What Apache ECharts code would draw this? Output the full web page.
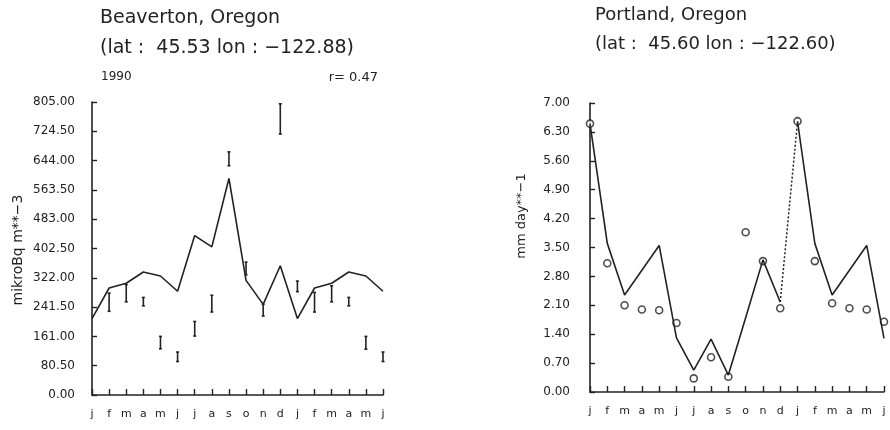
<!DOCTYPE html>
<html>
<head>
  <meta charset="utf-8">
  <title>Beaverton / Portland</title>
  <script src="https://cdn.jsdelivr.net/npm/echarts@6/dist/echarts.min.js"></script>
</head>
<body style="margin:0;background:#fff">
  <div id="chart" style="width: 890px; height: 430px;"></div>

  <script>
    // month letters, two seasonal cycles (j .. d, j .. j)
    const months = ['j','f','m','a','m','j','j','a','s','o','n','d','j','f','m','a','m','j'];

    // Beaverton: model curve and measured ranges (low, high); null = no measurement
    const beavertonModel = [210, 294, 307, 338, 327, 285, 438, 407, 595, 315, 249, 355, 210, 294, 307, 338, 327, 285];
    const beavertonLow  = [null, 230, 256, 245, 127, 92, 162, 228, 630, 330, 217, 717, 284, 228, 256, 245, 126, 92];
    const beavertonHigh = [null, 280, 303, 268, 161, 118, 202, 274, 668, 365, 249, 800, 313, 282, 300, 268, 161, 118];

    // Portland: model curve and observed values (mm/day)
    const portlandModel = [6.5, 3.6, 2.35, 2.95, 3.55, 1.31, 0.53, 1.28, 0.41, 1.8, 3.2, 2.18, 6.55, 3.6, 2.35, 2.95, 3.55, 1.3];
    const portlandObs   = [6.5, 3.12, 2.1, 2.0, 1.98, 1.67, 0.33, 0.84, 0.37, 3.87, 3.17, 2.03, 6.56, 3.17, 2.15, 2.03, 2.0, 1.7];

    // y-axis ticks
    const beavertonTicks = [0, 80.5, 161, 241.5, 322, 402.5, 483, 563.5, 644, 724.5, 805];
    const portlandTicks = [0, 0.7, 1.4, 2.1, 2.8, 3.5, 4.2, 4.9, 5.6, 6.3, 7.0];

    const ink = '#222';
    const font = 'DejaVu Sans';

    const chart = echarts.init(document.getElementById('chart'));

    function renderBar(params, api) {
      const lo = api.coord([api.value(0), api.value(1)]);
      const hi = api.coord([api.value(0), api.value(2)]);
      const st = { stroke: ink, lineWidth: 1.6 };
      return {
        type: 'group',
        children: [
          { type: 'line', shape: { x1: lo[0], y1: lo[1], x2: hi[0], y2: hi[1] }, style: st },
          { type: 'line', shape: { x1: lo[0] - 1.5, y1: lo[1], x2: lo[0] + 1.5, y2: lo[1] }, style: st },
          { type: 'line', shape: { x1: hi[0] - 1.5, y1: hi[1], x2: hi[0] + 1.5, y2: hi[1] }, style: st }
        ]
      };
    }

    const barData = [];
    beavertonLow.forEach((lo, i) => {
      if (lo !== null) barData.push([i, lo, beavertonHigh[i]]);
    });

    function xAxisFor(gridIndex) {
      return {
        gridIndex: gridIndex,
        type: 'category',
        data: months,
        boundaryGap: false,
        axisLine: { lineStyle: { color: ink, width: 1.6 } },
        axisTick: { inside: true, length: 6, lineStyle: { color: ink, width: 1.4 } },
        axisLabel: { color: ink, fontSize: 11, fontFamily: font, margin: 14 },
        splitLine: { show: false }
      };
    }

    function yAxisFor(gridIndex, ticks, margin) {
      return {
        gridIndex: gridIndex,
        type: 'value',
        min: ticks[0],
        max: ticks[ticks.length - 1],
        interval: ticks[1] - ticks[0],
        axisLine: { show: true, lineStyle: { color: ink, width: 1.6 } },
        axisTick: { show: true, inside: true, length: 5, lineStyle: { color: ink, width: 1.4 } },
        axisLabel: { color: ink, fontSize: 12, fontFamily: font, margin: margin, formatter: v => v.toFixed(2) },
        splitLine: { show: false }
      };
    }

    const option = {
      animation: false,
      backgroundColor: '#fff',
      title: [
        { text: 'Beaverton, Oregon\n(lat :  45.53 lon : −122.88)', left: 95, top: -2,
          textStyle: { color: ink, fontSize: 19, fontWeight: 'normal', fontFamily: font, lineHeight: 30 } },
        { text: '1990', left: 96, top: 66,
          textStyle: { color: ink, fontSize: 12, fontWeight: 'normal', fontFamily: font } },
        { text: 'r= 0.47', right: 507, top: 66,
          textStyle: { color: ink, fontSize: 13, fontWeight: 'normal', fontFamily: font } },
        { text: 'Portland, Oregon\n(lat :  45.60 lon : −122.60)', left: 590, top: -4,
          textStyle: { color: ink, fontSize: 18, fontWeight: 'normal', fontFamily: font, lineHeight: 29 } }
      ],
      graphic: [
        { type: 'text', x: 18, y: 250, rotation: Math.PI / 2,
          style: { text: 'mikroBq m**−3', fill: ink, fontSize: 14, fontFamily: font, align: 'center', verticalAlign: 'middle' } },
        { type: 'text', x: 522, y: 216, rotation: Math.PI / 2,
          style: { text: 'mm day**−1', fill: ink, fontSize: 13, fontFamily: font, align: 'center', verticalAlign: 'middle' } }
      ],
      grid: [
        { left: 92, right: 507, top: 102, bottom: 35 },
        { left: 590, right: 6, top: 103, bottom: 38 }
      ],
      xAxis: [xAxisFor(0), xAxisFor(1)],
      yAxis: [yAxisFor(0, beavertonTicks, 17), yAxisFor(1, portlandTicks, 20)],
      series: [
        {
          name: 'Beaverton model', type: 'line', xAxisIndex: 0, yAxisIndex: 0,
          data: beavertonModel, symbol: 'none',
          lineStyle: { color: ink, width: 1.6 }
        },
        {
          name: 'Beaverton measured', type: 'custom', xAxisIndex: 0, yAxisIndex: 0,
          data: barData, encode: { x: 0, y: [1, 2] }, renderItem: renderBar
        },
        {
          name: 'Portland model', type: 'line', xAxisIndex: 1, yAxisIndex: 1,
          data: portlandModel.map((v, i) => (i <= 11 ? v : '-')), symbol: 'none',
          lineStyle: { color: ink, width: 1.6 }
        },
        {
          name: 'Portland model 2', type: 'line', xAxisIndex: 1, yAxisIndex: 1,
          data: portlandModel.map((v, i) => (i >= 12 ? v : '-')), symbol: 'none',
          lineStyle: { color: ink, width: 1.6 }
        },
        {
          name: 'Portland link', type: 'line', xAxisIndex: 1, yAxisIndex: 1,
          data: portlandModel.map((v, i) => (i === 11 || i === 12 ? v : '-')), symbol: 'none',
          lineStyle: { color: ink, width: 1.5, type: [2, 2] }
        },
        {
          name: 'Portland observed', type: 'scatter', xAxisIndex: 1, yAxisIndex: 1,
          data: portlandObs, symbol: 'circle', symbolSize: 7,
          itemStyle: { color: '#fff', borderColor: ink, borderWidth: 1.6 }
        }
      ]
    };

    chart.setOption(option);
  </script>
</body>
</html>
